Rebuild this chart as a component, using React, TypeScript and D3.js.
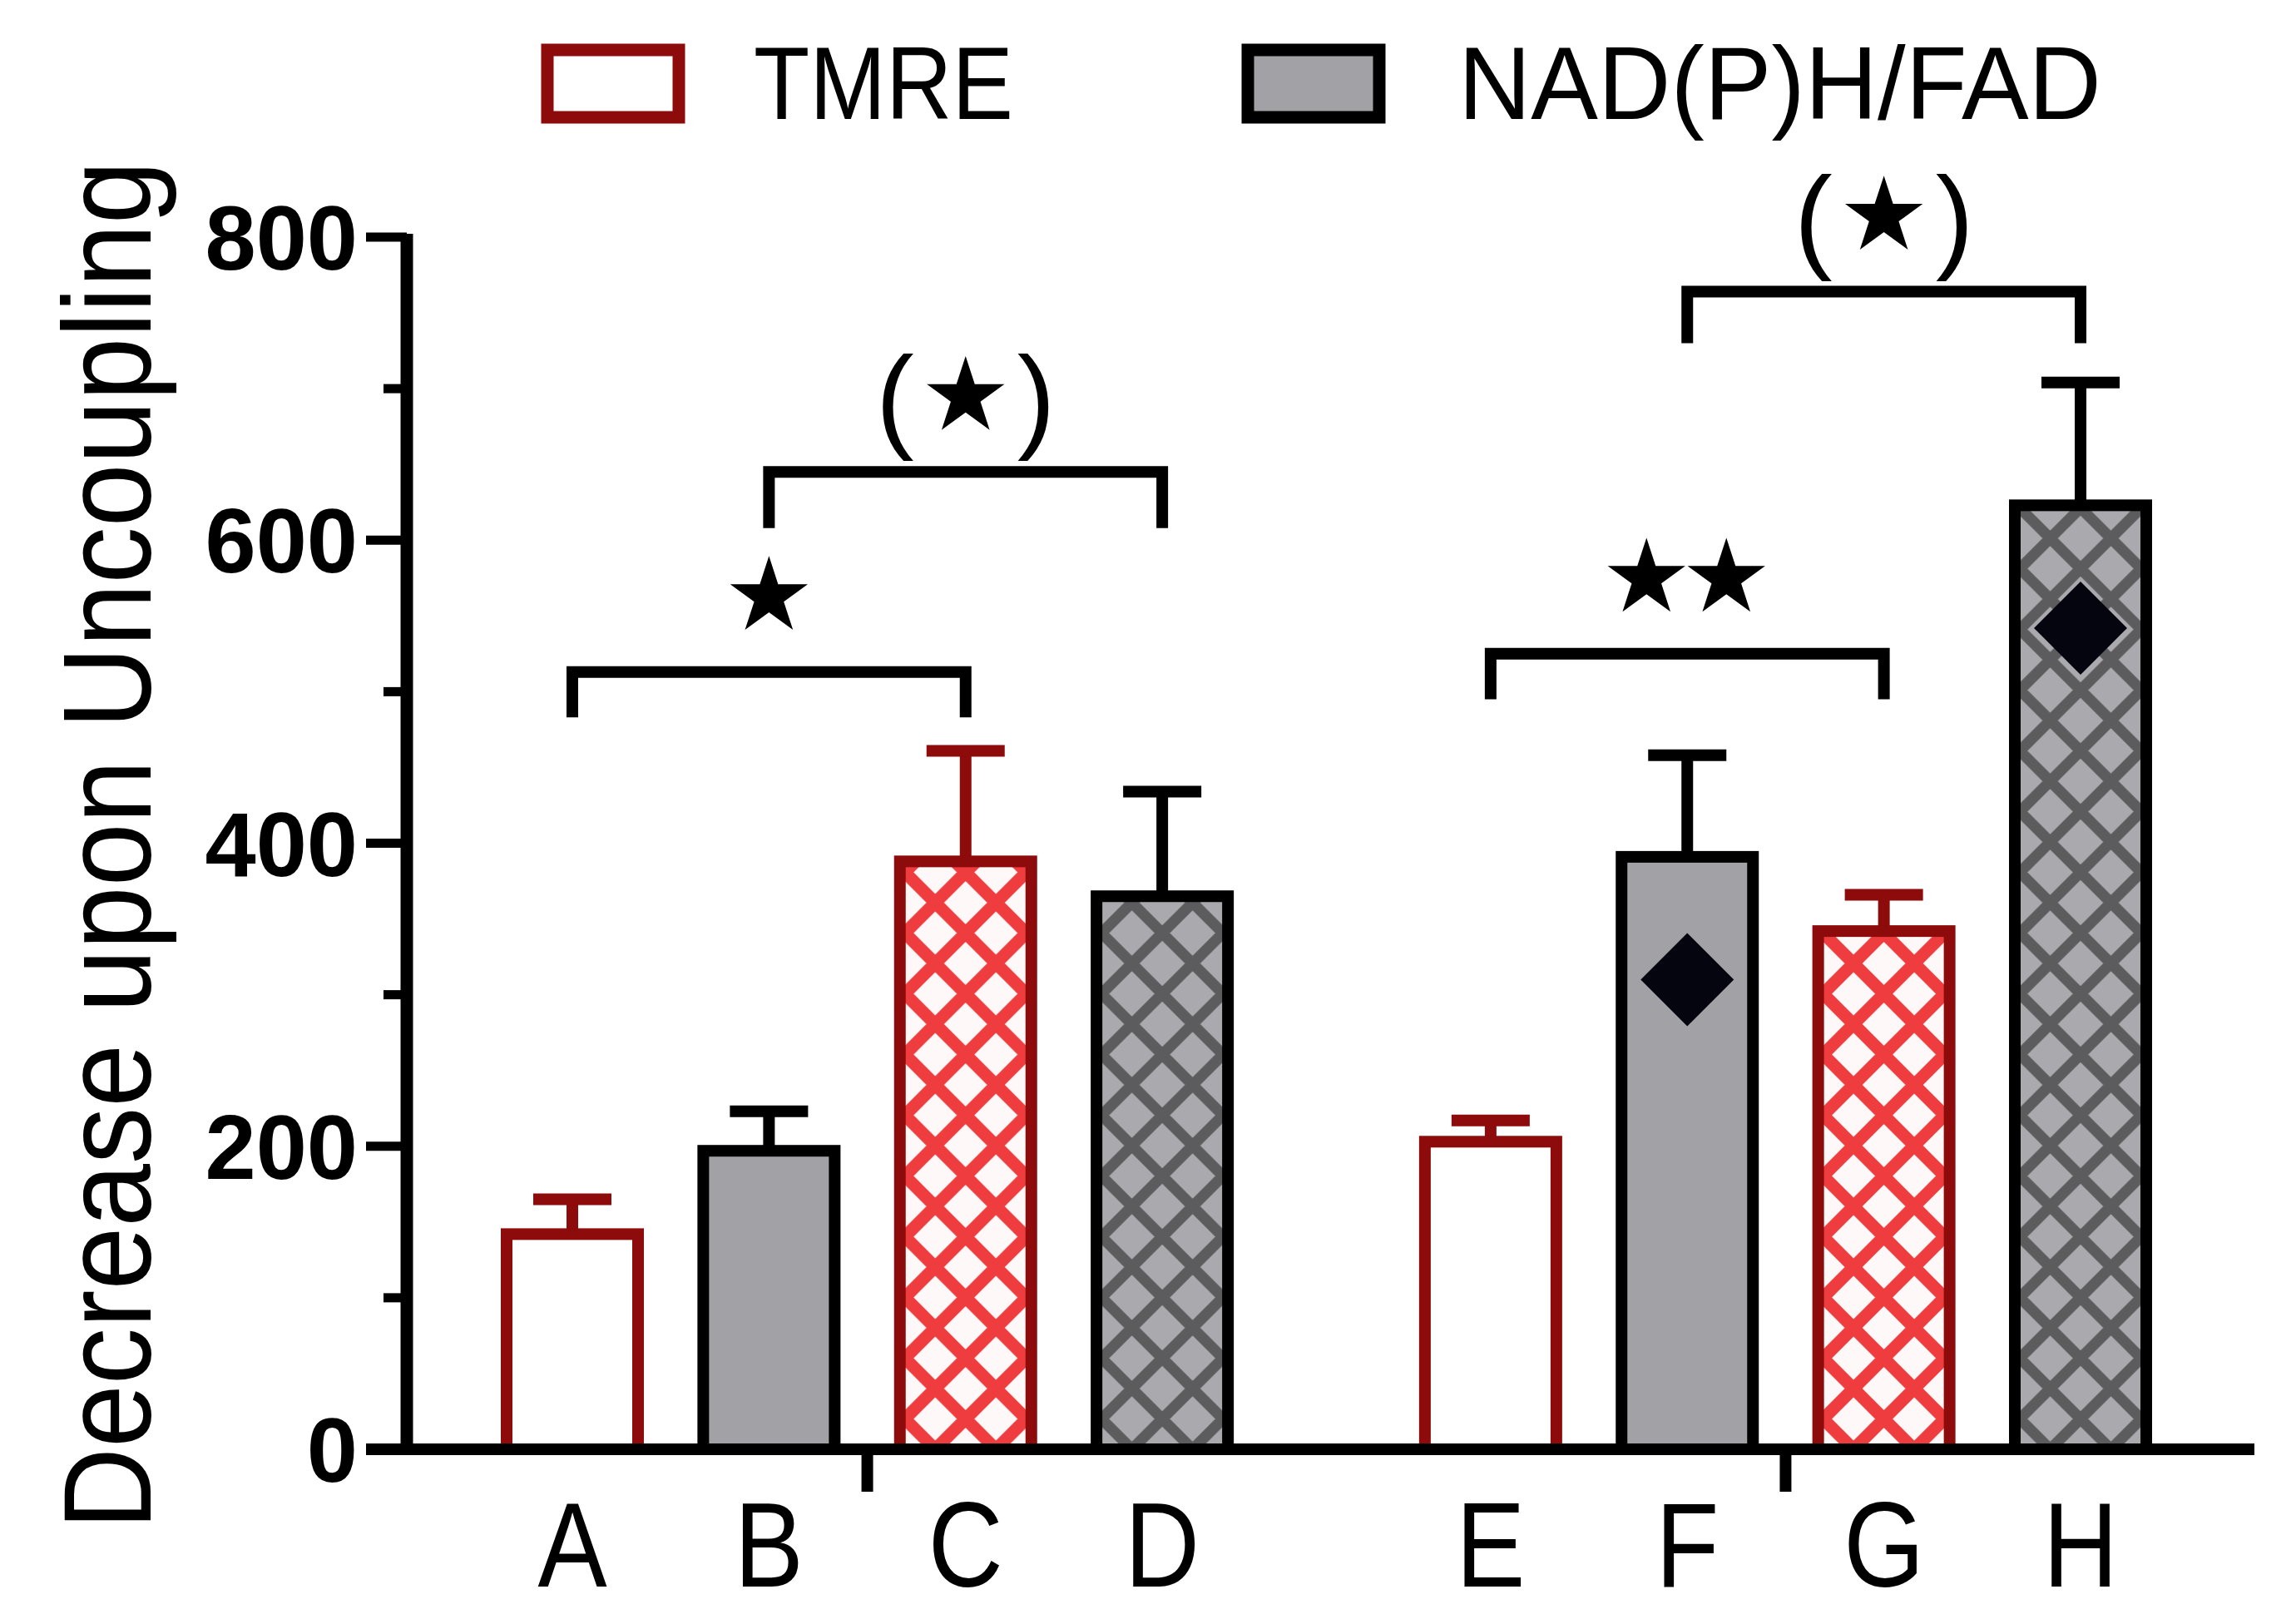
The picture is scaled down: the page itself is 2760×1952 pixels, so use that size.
import React from 'react';
import * as d3 from 'd3';

// ---------- data ----------
const categories = ['A', 'B', 'C', 'D', 'E', 'F', 'G', 'H'];
const slotPositions = [0, 1, 2, 3, 4.67, 5.67, 6.67, 7.67];
const seriesOf = ['TMRE', 'NAD', 'TMRE', 'NAD', 'TMRE', 'NAD', 'TMRE', 'NAD'];
const fillStyles = ['open', 'solid', 'hatch', 'hatch', 'open', 'solid', 'hatch', 'hatch'];
const means = [142, 197, 388, 365, 203, 391, 342, 623];
const sems = [23, 26, 73, 69, 14, 67, 24, 81];

const diamondCategories = ['F', 'H'];
const diamondValues = [310, 542];

const majorTicks = [0, 200, 400, 600, 800];
const minorTicks = [100, 300, 500, 700];

const bracketFrom = ['A', 'B', 'E', 'F'];
const bracketTo = ['C', 'D', 'G', 'H'];
const bracketLevels = [513, 645, 525, 764];
const bracketLegEnds = [483, 608, 495, 730];
const bracketStarCounts = [1, 1, 2, 1];
const bracketParens = [false, true, false, true];

const legendLabels = ['TMRE', 'NAD(P)H/FAD'];
const yTitle = 'Decrease upon Uncoupling';

// ---------- styles ----------
const W = 2760;
const H = 1952;
const FONT = '"Liberation Sans", Arial, sans-serif';
const DARK_RED = '#8e0b0b';
const HATCH_RED = '#ef3d3f';
const GRAY = '#a2a2a6';
const HATCH_GRAY_BG = '#aaaaae';
const HATCH_GRAY_LINE = '#5c5c5e';
const BAR_W = 158;
const STROKE = 14;
const PAT = 73;

export default function App() {
  const x = d3.scaleLinear().domain([0, 7.67]).range([688, 2501]);
  const y = d3.scaleLinear().domain([0, 800]).range([1742, 285]);
  const cx = (c: string) => x(slotPositions[categories.indexOf(c)]);

  const starPath = d3.symbol().type(d3.symbolStar).size(2700)() as string;
  const starR = Math.sqrt(2700 * 0.8908130915292852);
  const starCenterShift = 0.0955 * starR;

  const sepTicks = [
    (cx('B') + cx('C')) / 2,
    (cx('F') + cx('G')) / 2,
  ];

  return (
    <svg
      width={W}
      height={H}
      viewBox={`0 0 ${W} ${H}`}
      style={{ position: 'absolute', left: 0, top: 0, background: '#fff' }}
      fontFamily={FONT}
    >
      <defs>
        {categories.map((c, i) => {
          if (fillStyles[i] !== 'hatch') return null;
          const red = seriesOf[i] === 'TMRE';
          return (
            <pattern
              key={c}
              id={`hatch-${c}`}
              patternUnits="userSpaceOnUse"
              width={PAT}
              height={PAT}
              x={cx(c) - PAT / 2}
              y={y(0)}
            >
              <rect width={PAT} height={PAT} fill={red ? '#fff8f8' : HATCH_GRAY_BG} />
              <path
                d={`M-20,-20L${PAT + 20},${PAT + 20}M${PAT + 20},-20L-20,${PAT + 20}`}
                stroke={red ? HATCH_RED : HATCH_GRAY_LINE}
                strokeWidth={red ? 15 : 13}
              />
            </pattern>
          );
        })}
      </defs>

      {/* legend */}
      <g>
        <rect x={658} y={60} width={158} height={81} fill="#fff" stroke={DARK_RED} strokeWidth={15} />
        <text x={906} y={143} fontSize={125} textLength={312} lengthAdjust="spacingAndGlyphs" fill="#000">
          {legendLabels[0]}
        </text>
        <rect x={1500} y={60} width={158} height={81} fill={GRAY} stroke="#000" strokeWidth={15} />
        <text x={1753} y={143} fontSize={125} textLength={773} lengthAdjust="spacingAndGlyphs" fill="#000">
          {legendLabels[1]}
        </text>
      </g>

      {/* bars */}
      {categories.map((c, i) => {
        const red = seriesOf[i] === 'TMRE';
        const stroke = red ? DARK_RED : '#000';
        let fill = '#fff';
        if (fillStyles[i] === 'solid') fill = GRAY;
        if (fillStyles[i] === 'hatch') fill = `url(#hatch-${c})`;
        const top = y(means[i]);
        const errTop = y(means[i] + sems[i]);
        const xc = cx(c);
        return (
          <g key={c}>
            <line x1={xc} x2={xc} y1={top} y2={errTop} stroke={stroke} strokeWidth={STROKE} />
            <line x1={xc - 47} x2={xc + 47} y1={errTop} y2={errTop} stroke={stroke} strokeWidth={STROKE} />
            <rect
              x={xc - BAR_W / 2}
              y={top}
              width={BAR_W}
              height={y(0) - top}
              fill={fill}
              stroke={stroke}
              strokeWidth={STROKE}
            />
          </g>
        );
      })}

      {/* diamonds */}
      {diamondCategories.map((c, i) => {
        const xc = cx(c);
        const yc = y(diamondValues[i]);
        const r = 56;
        return (
          <path
            key={c}
            d={`M${xc},${yc - r}L${xc + r},${yc}L${xc},${yc + r}L${xc - r},${yc}Z`}
            fill="#050510"
          />
        );
      })}

      {/* y axis */}
      <g>
        <line x1={489} x2={489} y1={y(800) - 4} y2={y(0) + 7} stroke="#000" strokeWidth={15} />
        {majorTicks.map((t) => (
          <g key={t}>
            <line x1={440} x2={489} y1={y(t)} y2={y(t)} stroke="#000" strokeWidth={11} />
            <text
              x={430}
              y={y(t) + 39}
              textAnchor="end"
              fontSize={110}
              fontWeight="bold"
              fill="#000"
            >
              {t}
            </text>
          </g>
        ))}
        {minorTicks.map((t) => (
          <line key={t} x1={461} x2={489} y1={y(t)} y2={y(t)} stroke="#000" strokeWidth={11} />
        ))}
      </g>

      {/* x axis */}
      <g>
        <line x1={440} x2={2710} y1={y(0)} y2={y(0)} stroke="#000" strokeWidth={14} />
        {sepTicks.map((sx, i) => (
          <line key={i} x1={sx} x2={sx} y1={y(0)} y2={1793} stroke="#000" strokeWidth={14} />
        ))}
        {categories.map((c) => (
          <text
            key={c}
            transform={`translate(${cx(c)},1907) scale(0.86,1)`}
            textAnchor="middle"
            fontSize={145}
            fill="#000"
          >
            {c}
          </text>
        ))}
      </g>

      {/* y title */}
      <text
        transform={`translate(181,1016) rotate(-90)`}
        textAnchor="middle"
        fontSize={150}
        textLength={1645}
        lengthAdjust="spacingAndGlyphs"
        fill="#000"
      >
        {yTitle}
      </text>

      {/* significance brackets */}
      {bracketFrom.map((f, i) => {
        const x1 = cx(f);
        const x2 = cx(bracketTo[i]);
        const yl = y(bracketLevels[i]);
        const yLeg = y(bracketLegEnds[i]);
        const mid = (x1 + x2) / 2;
        const starY = yl - 95 + starCenterShift;
        const n = bracketStarCounts[i];
        const offsets = n === 1 ? [0] : [-49, 47];
        return (
          <g key={i}>
            <path
              d={`M${x1},${yLeg}L${x1},${yl}L${x2},${yl}L${x2},${yLeg}`}
              fill="none"
              stroke="#000"
              strokeWidth={14}
              strokeLinejoin="miter"
            />
            {offsets.map((o, k) => (
              <path key={k} d={starPath} transform={`translate(${mid + o},${starY})`} fill="#000" />
            ))}
            {bracketParens[i] && (
              <g>
                <text x={mid - 85} y={yl - 42} textAnchor="middle" fontSize={138} fill="#000">
                  (
                </text>
                <text x={mid + 85} y={yl - 42} textAnchor="middle" fontSize={138} fill="#000">
                  )
                </text>
              </g>
            )}
          </g>
        );
      })}
    </svg>
  );
}
